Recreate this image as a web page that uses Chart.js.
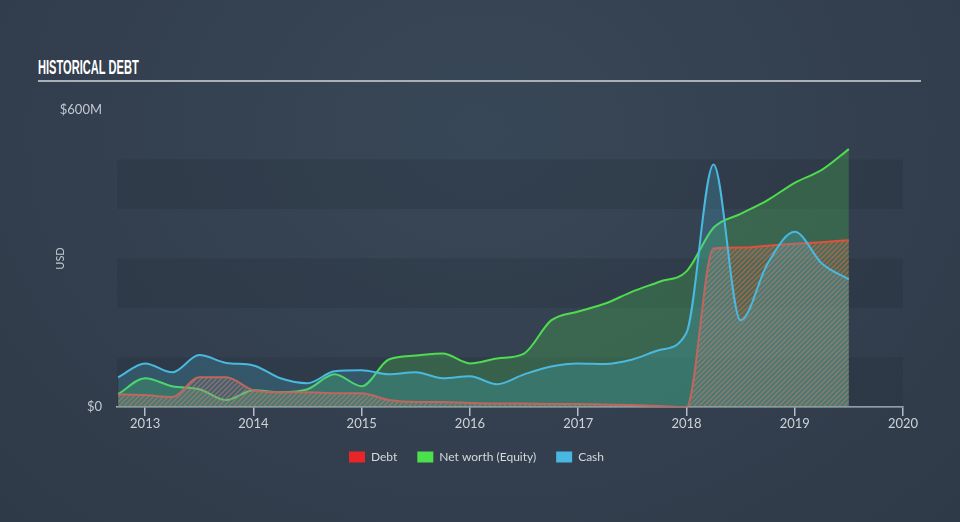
<!DOCTYPE html>
<html>
<head>
<meta charset="utf-8">
<script src="https://cdn.jsdelivr.net/npm/chart.js@4.4.0/dist/chart.umd.min.js"></script>
<style>
  html, body { margin: 0; padding: 0; }
  body {
    width: 960px; height: 522px; position: relative; overflow: hidden;
    background: radial-gradient(ellipse at 50% 25%, #384757 0%, #333f4e 60%, #2f3a48 100%);
  }
  #title {
    position: absolute; left: 38px; top: 56px; color: #fff;
    font: bold 20px "Liberation Sans Narrow", sans-serif;
    transform-origin: left top; transform: scaleX(0.555); white-space: nowrap;
  }
  #rule { position: absolute; left: 38px; top: 80px; width: 883px; height: 2px; background: #a9b0b8; }
  #myChart { position: absolute; left: 0; top: 0; }
</style>
</head>
<body>
<div id="title">HISTORICAL DEBT</div>
<div id="rule"></div>
<canvas id="myChart" width="960" height="522"></canvas>
<script>
// quarterly dates (decimal years), values in $M
const dates = [2012.75, 2013.0, 2013.25, 2013.5, 2013.75, 2014.0, 2014.25, 2014.5, 2014.75,
  2015.0, 2015.25, 2015.5, 2015.75, 2016.0, 2016.25, 2016.5, 2016.75, 2017.0, 2017.25,
  2017.5, 2017.75, 2018.0, 2018.25, 2018.5, 2018.75, 2019.0, 2019.25, 2019.5];
const debt = [26, 24, 20, 60, 60, 34, 30, 30, 28, 28, 14, 10, 10, 8, 7, 7, 6, 6, 5, 4, 2, 0,
  320, 322, 326, 330, 333, 337];
const equity = [26, 58, 42, 36, 14, 34, 30, 36, 66, 42, 96, 104, 108, 88, 98, 108, 175, 193,
  209, 233, 253, 274, 362, 390, 418, 453, 479, 521];
const cash = [60, 88, 70, 105, 89, 84, 58, 48, 72, 74, 66, 70, 58, 62, 46, 66, 82, 88, 87, 96,
  115, 150, 490, 175, 290, 354, 290, 258];
const tickYears = [2013, 2014, 2015, 2016, 2017, 2018, 2019, 2020];
const yTicks = [0, 600];
const bands = [[0, 100], [200, 300], [400, 500]];
const legendColors = ['#e8262a', '#4ce04c', '#48b8e0'];

function hatch() {
  const c = document.createElement('canvas');
  c.width = 5; c.height = 5;
  const g = c.getContext('2d');
  g.fillStyle = 'rgba(150,150,140,0.18)';
  g.fillRect(0, 0, 5, 5);
  g.strokeStyle = 'rgba(225,100,75,0.65)';
  g.lineWidth = 1.3;
  g.beginPath();
  g.moveTo(0, 5); g.lineTo(5, 0);
  g.moveTo(-1, 1); g.lineTo(1, -1);
  g.moveTo(4, 6); g.lineTo(6, 4);
  g.stroke();
  return g.createPattern(c, 'repeat');
}

const bandPlugin = {
  id: 'bands',
  beforeDatasetsDraw(chart) {
    const { ctx, chartArea, scales } = chart;
    ctx.save();
    ctx.fillStyle = 'rgba(30,40,52,0.22)';
    bands.forEach(b => {
      const y1 = scales.y.getPixelForValue(b[1]);
      const y0 = scales.y.getPixelForValue(b[0]);
      ctx.fillRect(chartArea.left, y1, chartArea.right - chartArea.left, y0 - y1);
    });
    ctx.restore();
  }
};

const pts = arr => arr.map((v, i) => ({ x: dates[i], y: v }));
const font = { family: 'Lato, sans-serif', size: 12 };
const tickFont = { family: 'Lato, sans-serif', size: 13 };

new Chart(document.getElementById('myChart'), {
  type: 'line',
  data: {
    datasets: [{
      label: 'Debt',
      data: pts(debt),
      borderColor: '#e0503c',
      backgroundColor: hatch(),
      fill: 'origin',
      order: 1
    }, {
      label: 'Net worth (Equity)',
      data: pts(equity),
      borderColor: '#4fdc4f',
      backgroundColor: 'rgba(80,220,80,0.24)',
      fill: 'origin',
      order: 2
    }, {
      label: 'Cash',
      data: pts(cash),
      borderColor: '#4ab9df',
      backgroundColor: 'rgba(72,185,222,0.22)',
      fill: 'origin',
      order: 0
    }]
  },
  options: {
    responsive: false,
    animation: false,
    layout: { padding: { left: 50, right: 57, top: 110, bottom: 49 } },
    elements: {
      point: { radius: 0 },
      line: { borderWidth: 2, cubicInterpolationMode: 'monotone' }
    },
    scales: {
      x: {
        type: 'linear',
        min: 2012.74,
        max: 2020,
        afterBuildTicks: s => { s.ticks = tickYears.map(v => ({ value: v })); },
        afterFit: s => { s.height = 24; },
        ticks: { color: '#cdd2d8', font: tickFont, padding: 0, callback: v => String(v) },
        grid: { drawOnChartArea: false, drawTicks: true, tickLength: 9, color: '#b4bcc6', lineWidth: 1.5 },
        border: { color: '#b4bcc6', width: 1.5 }
      },
      y: {
        min: 0,
        max: 600,
        afterBuildTicks: s => { s.ticks = yTicks.map(v => ({ value: v })); },
        afterFit: s => { s.width = 67; },
        ticks: { color: '#c3c9d0', font: tickFont, padding: 15, callback: v => v === 0 ? '$0' : '$' + v + 'M' },
        grid: { display: false, drawTicks: false },
        border: { display: false },
        title: { display: true, text: 'USD', color: '#c3c9d0', font: { family: 'Lato, sans-serif', size: 11 }, padding: 4 }
      }
    },
    plugins: {
      tooltip: { enabled: false },
      legend: {
        position: 'bottom',
        labels: {
          color: '#d5d9de',
          font: font,
          boxWidth: 16,
          boxHeight: 11,
          padding: 20,
          sort: (a, b) => a.datasetIndex - b.datasetIndex,
          generateLabels: chart => Chart.defaults.plugins.legend.labels.generateLabels(chart).map(l => {
            l.fillStyle = legendColors[l.datasetIndex];
            l.strokeStyle = legendColors[l.datasetIndex];
            l.lineWidth = 0;
            return l;
          })
        }
      }
    }
  },
  plugins: [bandPlugin]
});
</script>
</body>
</html>
